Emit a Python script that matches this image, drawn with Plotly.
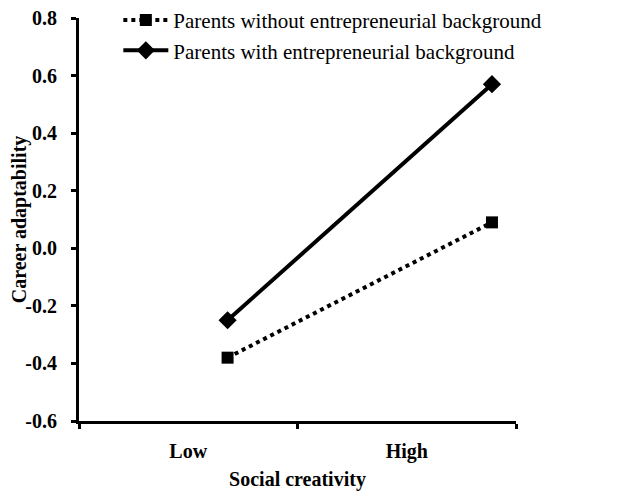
import plotly.graph_objects as go

categories = ["Low", "High"]
cat_label_pos = [0.5, 1.5]
point_pos = [0.68, 1.89]
without_bg = [-0.38, 0.09]
with_bg = [-0.25, 0.57]
series_names = ["Parents without entrepreneurial background",
                "Parents with entrepreneurial background"]
y_ticks = [-0.6, -0.4, -0.2, 0.0, 0.2, 0.4, 0.6, 0.8]
y_tick_text = ["-0.6", "-0.4", "-0.2", "0.0", "0.2", "0.4", "0.6", "0.8"]

FONT = "Liberation Serif, Times New Roman, serif"

fig = go.Figure()
fig.add_trace(go.Scatter(
    x=point_pos, y=without_bg, name=series_names[0], mode="lines+markers",
    line=dict(color="black", width=4, dash="dot"),
    marker=dict(symbol="square", size=12, color="black")))
fig.add_trace(go.Scatter(
    x=point_pos, y=with_bg, name=series_names[1], mode="lines+markers",
    line=dict(color="black", width=4),
    marker=dict(symbol="diamond", size=14, color="black")))

fig.update_layout(
    width=624, height=485,
    margin=dict(l=71, r=116, t=10, b=72, autoexpand=False),
    plot_bgcolor="white", paper_bgcolor="white",
    font=dict(family=FONT, color="black"),
    showlegend=True,
    legend=dict(x=0.09, y=1.045, xanchor="left", yanchor="top",
                font=dict(family=FONT, size=21, color="black"),
                bgcolor="rgba(0,0,0,0)", itemwidth=45, tracegroupgap=0),
    xaxis=dict(range=[0, 2], showgrid=False, zeroline=False,
               showline=True, linecolor="black", linewidth=3,
               tickvals=cat_label_pos, ticktext=categories, ticks="",
               ticklabelstandoff=10, ticklabeloverflow="allow",
               tickfont=dict(family=FONT, size=20, weight="bold", color="black"),
               minor=dict(tickvals=[0, 1, 2], ticks="outside", ticklen=5,
                          tickwidth=3, tickcolor="black"),
               title=dict(text="Social creativity",
                          font=dict(family=FONT, size=20, weight="bold", color="black"),
                          standoff=10)),
    yaxis=dict(range=[-0.6, 0.8], showgrid=False, zeroline=False,
               showline=True, linecolor="black", linewidth=3,
               tickvals=y_ticks, ticktext=y_tick_text,
               ticks="outside", ticklen=5, tickwidth=3, tickcolor="black",
               ticklabelstandoff=10, ticklabeloverflow="allow",
               tickfont=dict(family=FONT, size=20, weight="bold", color="black"),
               title=dict(text="Career adaptability",
                          font=dict(family=FONT, size=20, weight="bold", color="black"),
                          standoff=2)),
)

fig.write_html("out.html")
